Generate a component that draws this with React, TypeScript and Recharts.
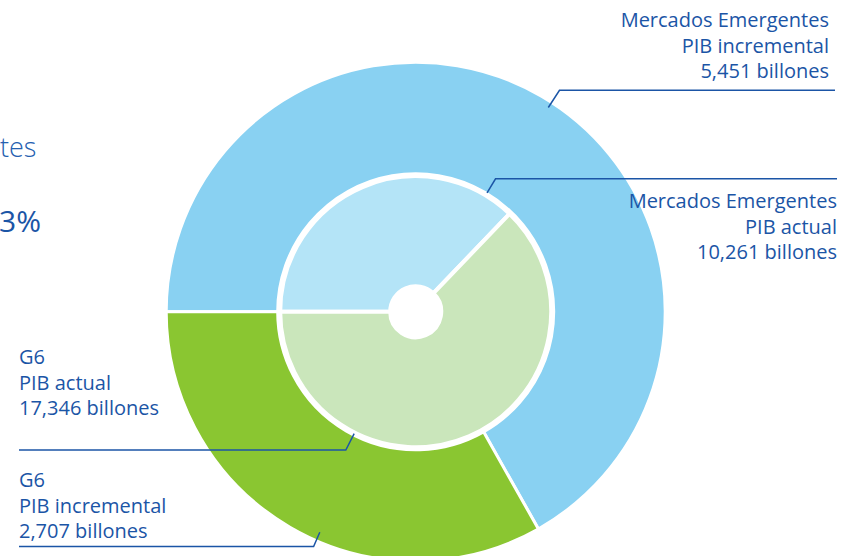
import { PieChart, Pie, Cell } from 'recharts';

// PIB in billones
const outerNames = ['Mercados Emergentes', 'G6'];
const outerValues = [5451, 2707];
const innerNames = ['Mercados Emergentes', 'G6'];
const innerValues = [10261, 17346];

const outerColors = ['#89d1f2', '#8ac631'];
const innerColors = ['#b4e4f7', '#cae6bb'];

const outerLabels = [
  ['Mercados Emergentes', 'PIB incremental', '5,451 billones'],
  ['G6', 'PIB incremental', '2,707 billones'],
];
const innerLabels = [
  ['Mercados Emergentes', 'PIB actual', '10,261 billones'],
  ['G6', 'PIB actual', '17,346 billones'],
];

const TEXT_BLUE = '#1b55a6';
const FONT = '"Open Sans", sans-serif';

const outerData = outerNames.map((name, i) => ({ name, value: outerValues[i] }));
const innerData = innerNames.map((name, i) => ({ name, value: innerValues[i] }));

// leader line layout per slice: angle on the ring, elbow radius, line end x, text anchor + first baseline
const outerLayout = [
  { angle: 57, r0: -6, r1: 264, endX: 835, textX: 829, textY: 27, anchor: 'end' },
  { angle: -113.5, r0: -9, r1: 256, endX: 19, textX: 19, textY: 487, anchor: 'start' },
];
const innerLayout = [
  { angle: 59, r0: 3, r1: 155, endX: 837, textX: 837, textY: 208, anchor: 'end' },
  { angle: -116.8, r0: 1, r1: 155, endX: 19, textX: 19, textY: 364, anchor: 'start' },
];

const RADIAN = Math.PI / 180;

const makeLabel = (layout: any[], texts: string[][]) => (props: any) => {
  const { cx, cy, outerRadius, index } = props;
  const l = layout[index];
  const a = l.angle * RADIAN;
  const x0 = cx + (outerRadius + l.r0) * Math.cos(a);
  const y0 = cy - (outerRadius + l.r0) * Math.sin(a);
  const x1 = cx + l.r1 * Math.cos(a);
  const y1 = cy - l.r1 * Math.sin(a);
  return (
    <g key={`lbl-${index}`}>
      <polyline
        points={`${x0},${y0} ${x1},${y1} ${l.endX},${y1}`}
        fill="none"
        stroke={TEXT_BLUE}
        strokeWidth={1.5}
      />
      {texts[index].map((t, j) => (
        <text
          key={j}
          x={l.textX}
          y={l.textY + j * 25.5}
          textAnchor={l.anchor}
          fill={TEXT_BLUE}
          fontSize={20}
          fontWeight={500}
          fontFamily={FONT}
        >
          {t}
        </text>
      ))}
    </g>
  );
};

export default function App() {
  return (
    <div style={{ position: 'absolute', left: 0, top: 0, width: 841, height: 556, background: '#fff', overflow: 'hidden' }}>
      <svg width={841} height={556} style={{ position: 'absolute', left: 0, top: 0 }}>
        <text x={0} y={157} fill="#2460b0" fontSize={27} fontWeight={300} fontFamily={FONT}>tes</text>
        <text x={-1} y={232} fill="#1b55a6" fontSize={30} fontFamily={FONT}>3%</text>
      </svg>
      <div style={{ position: 'absolute', left: 0, top: 0 }}>
        <PieChart width={841} height={556} margin={{ top: 0, right: 0, bottom: 0, left: 0 }}>
          <Pie
            data={outerData}
            dataKey="value"
            cx={415.7}
            cy={311.7}
            innerRadius={138}
            outerRadius={249.5}
            startAngle={180}
            endAngle={-180}
            stroke="#fff"
            strokeWidth={3}
            labelLine={false}
            label={makeLabel(outerLayout, outerLabels)}
            isAnimationActive={false}
          >
            {outerData.map((d, i) => (
              <Cell key={`o-${i}`} fill={outerColors[i]} />
            ))}
          </Pie>
          <Pie
            data={innerData}
            dataKey="value"
            cx={415.7}
            cy={311.7}
            innerRadius={25.5}
            outerRadius={135.5}
            startAngle={180}
            endAngle={-180}
            stroke="#fff"
            strokeWidth={4}
            labelLine={false}
            label={makeLabel(innerLayout, innerLabels)}
            isAnimationActive={false}
          >
            {innerData.map((d, i) => (
              <Cell key={`i-${i}`} fill={innerColors[i]} />
            ))}
          </Pie>
        </PieChart>
      </div>
    </div>
  );
}
